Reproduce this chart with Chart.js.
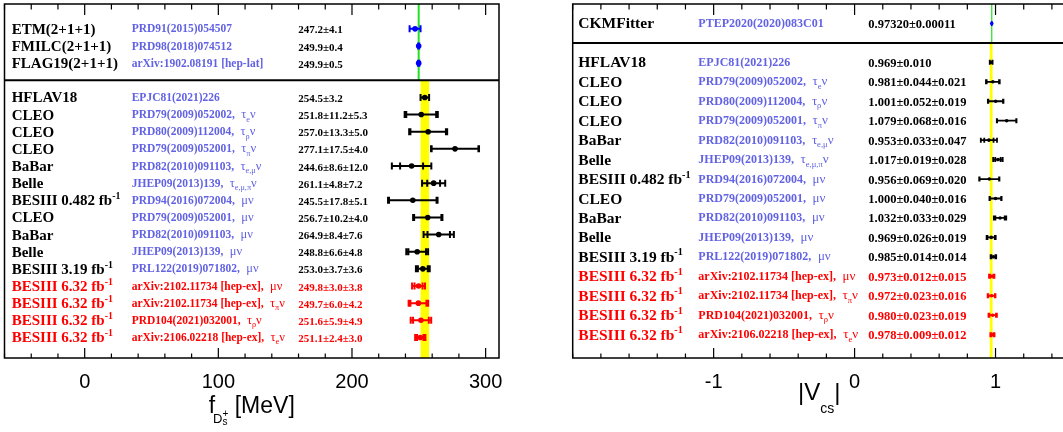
<!DOCTYPE html>
<html><head><meta charset="utf-8">
<script src="https://cdn.jsdelivr.net/npm/chart.js@4/dist/chart.umd.min.js"></script>
<style>
html,body{margin:0;padding:0;background:#fff;overflow:hidden;width:1063px;height:432px;position:relative;}
#c1{position:absolute;left:0;top:0;}
#c2{position:absolute;left:560px;top:0;}
</style></head><body>
<canvas id="c1" width="520" height="432"></canvas>
<canvas id="c2" width="520" height="432"></canvas>
<script>
// ---------------- data: f_Ds+ panel ----------------
const fdsRows = [0,1,2,4,5,6,7,8,9,10,11,12,13,14,15,16,17,18];
const fdsNames = ['ETM(2+1+1)','FMILC(2+1+1)','FLAG19(2+1+1)','HFLAV18','CLEO','CLEO','CLEO','BaBar','Belle','BESIII 0.482 fb^{-1}','CLEO','BaBar','Belle','BESIII 3.19 fb^{-1}','BESIII 6.32 fb^{-1}','BESIII 6.32 fb^{-1}','BESIII 6.32 fb^{-1}','BESIII 6.32 fb^{-1}'];
const fdsRefs = ['PRD91(2015)054507','PRD98(2018)074512','arXiv:1902.08191 [hep-lat]','EPJC81(2021)226','PRD79(2009)052002','PRD80(2009)112004','PRD79(2009)052001','PRD82(2010)091103','JHEP09(2013)139','PRD94(2016)072004','PRD79(2009)052001','PRD82(2010)091103','JHEP09(2013)139','PRL122(2019)071802','arXiv:2102.11734 [hep-ex]','arXiv:2102.11734 [hep-ex]','PRD104(2021)032001','arXiv:2106.02218 [hep-ex]'];
const fdsChannels = ['','','','','τ_{e}ν','τ_{ρ}ν','τ_{π}ν','τ_{e,μ}ν','τ_{e,μ,π}ν','μν','μν','μν','μν','μν','μν','τ_{π}ν','τ_{ρ}ν','τ_{e}ν'];
const fdsKinds = ['theory','theory','theory','avg','exp','exp','exp','exp','exp','exp','exp','exp','exp','exp','new','new','new','new'];
const fdsCentral = [247.2,249.9,249.9,254.5,251.8,257.0,277.1,244.6,261.1,245.5,256.7,264.9,248.8,253.0,249.8,249.7,251.6,251.1];
const fdsStat    = [4.1,0.4,0.5,3.2,11.2,13.3,17.5,8.6,4.8,17.8,10.2,8.4,6.6,3.7,3.0,6.0,5.9,2.4];
const fdsSyst    = [0,0,0,0,5.3,5.0,4.0,12.0,7.2,5.1,4.0,7.6,4.8,3.6,3.8,4.2,4.9,3.0];
const fdsDecimals = [1,1,1,1,1,1,1,1,1,1,1,1,1,1,1,1,1,1];
const fdsTicks = [0,100,200,300];
const fdsRange = [-60,310];

// ---------------- data: |Vcs| panel ----------------
const vcsRows = [0,2,3,4,5,6,7,8,9,10,11,12,13,14,15,16];
const vcsNames = ['CKMFitter','HFLAV18','CLEO','CLEO','CLEO','BaBar','Belle','BESIII 0.482 fb^{-1}','CLEO','BaBar','Belle','BESIII 3.19 fb^{-1}','BESIII 6.32 fb^{-1}','BESIII 6.32 fb^{-1}','BESIII 6.32 fb^{-1}','BESIII 6.32 fb^{-1}'];
const vcsRefs = ['PTEP2020(2020)083C01','EPJC81(2021)226','PRD79(2009)052002','PRD80(2009)112004','PRD79(2009)052001','PRD82(2010)091103','JHEP09(2013)139','PRD94(2016)072004','PRD79(2009)052001','PRD82(2010)091103','JHEP09(2013)139','PRL122(2019)071802','arXiv:2102.11734 [hep-ex]','arXiv:2102.11734 [hep-ex]','PRD104(2021)032001','arXiv:2106.02218 [hep-ex]'];
const vcsChannels = ['','','τ_{e}ν','τ_{ρ}ν','τ_{π}ν','τ_{e,μ}ν','τ_{e,μ,π}ν','μν','μν','μν','μν','μν','μν','τ_{π}ν','τ_{ρ}ν','τ_{e}ν'];
const vcsKinds = ['theory','avg','exp','exp','exp','exp','exp','exp','exp','exp','exp','exp','new','new','new','new'];
const vcsCentral = [0.97320,0.969,0.981,1.001,1.079,0.953,1.017,0.956,1.000,1.032,0.969,0.985,0.973,0.972,0.980,0.978];
const vcsStat    = [0.00011,0.010,0.044,0.052,0.068,0.033,0.019,0.069,0.040,0.033,0.026,0.014,0.012,0.023,0.023,0.009];
const vcsSyst    = [0,0,0.021,0.019,0.016,0.047,0.028,0.020,0.016,0.029,0.019,0.014,0.015,0.016,0.019,0.012];
const vcsDecimals = [5,3,3,3,3,3,3,3,3,3,3,3,3,3,3,3];
const vcsTicks = [-1,0,1];
const vcsRange = [-2,1.5];

// ---------------- rendering helpers ----------------
const SERIF = '"Liberation Serif","Times New Roman",serif';
const SANS = '"Liberation Sans",Arial,Helvetica,sans-serif';
const COLORS = {
  theory: {name:'#000', ref:'#6262e4', val:'#000', mark:'#0000ff'},
  avg:    {name:'#000', ref:'#6262e4', val:'#000', mark:'#000'},
  exp:    {name:'#000', ref:'#6262e4', val:'#000', mark:'#000'},
  new:    {name:'#ff0000', ref:'#ff0000', val:'#ff0000', mark:'#ff0000'}
};
function parseRich(str){
  const segs=[]; let i=0, buf='';
  while(i<str.length){
    const ch=str[i];
    if((ch==='_'||ch==='^')&&str[i+1]==='{'){
      if(buf){segs.push({t:buf,m:0});buf='';}
      const end=str.indexOf('}',i+2);
      segs.push({t:str.slice(i+2,end),m:ch==='_'?1:2});
      i=end+1;
    } else {buf+=ch;i++;}
  }
  if(buf) segs.push({t:buf,m:0});
  return segs;
}
function drawRich(ctx,x,y,str,size,weight,color,family){
  ctx.fillStyle=color; ctx.textBaseline='alphabetic'; ctx.textAlign='left';
  for(const s of parseRich(str)){
    const sz = s.m ? size*0.66 : size;
    const dy = s.m===1 ? size*0.28 : (s.m===2 ? -size*0.42 : 0);
    ctx.font = `${weight} ${sz}px ${family||SERIF}`;
    ctx.fillText(s.t,x,y+dy);
    x += ctx.measureText(s.t).width;
  }
  return x;
}
function fmt(v,d){return v.toFixed(d);}

const forestPlugin = {
  id:'forest',
  beforeDatasetsDraw(chart){
    const o = chart.options.plugins.forest, ctx = chart.ctx;
    const xs = chart.scales.x, ys = chart.scales.y, ca = chart.chartArea;
    const yDiv = ys.getPixelForValue(o.dividerRow);
    ctx.save();
    // yellow band from the average
    const b = o.bandIdx;
    const xl = xs.getPixelForValue(o.central[b]-o.stat[b]), xr = xs.getPixelForValue(o.central[b]+o.stat[b]);
    ctx.fillStyle='#ffff00';
    ctx.fillRect(xl, yDiv, xr-xl, ca.bottom-yDiv);
    // green reference line
    const xg = xs.getPixelForValue(o.central[o.lineIdx]);
    ctx.strokeStyle='#22e022'; ctx.lineWidth=o.st.greenW;
    ctx.beginPath(); ctx.moveTo(xg,ca.top); ctx.lineTo(xg,yDiv); ctx.stroke();
    // error bars
    for(let i=0;i<o.rows.length;i++){
      const y = ys.getPixelForValue(o.rows[i]);
      const c=o.central[i], s=o.stat[i], t=Math.hypot(o.stat[i],o.syst[i]);
      ctx.strokeStyle = COLORS[o.kinds[i]].mark;
      ctx.lineWidth = o.st.barW;
      ctx.beginPath();
      ctx.moveTo(xs.getPixelForValue(c-t),y); ctx.lineTo(xs.getPixelForValue(c+t),y);
      const caps = o.syst[i]>0 ? [c-s,c+s,c-t,c+t] : [c-s,c+s];
      for(const v of caps){
        const px = xs.getPixelForValue(v);
        ctx.moveTo(px,y-o.st.capH); ctx.lineTo(px,y+o.st.capH);
      }
      ctx.stroke();
    }
    ctx.restore();
  },
  afterDraw(chart){
    const o = chart.options.plugins.forest, ctx = chart.ctx;
    const xs = chart.scales.x, ys = chart.scales.y, ca = chart.chartArea;
    ctx.save();
    // frame
    ctx.strokeStyle='#000'; ctx.lineWidth=1.5;
    ctx.strokeRect(ca.left, ca.top, ca.right-ca.left, ca.bottom-ca.top);
    // divider
    const yDiv = ys.getPixelForValue(o.dividerRow);
    ctx.lineWidth=2;
    ctx.beginPath(); ctx.moveTo(ca.left,yDiv); ctx.lineTo(ca.right,yDiv); ctx.stroke();
    // inward ticks, top & bottom
    ctx.lineWidth=1.2;
    ctx.beginPath();
    const n = Math.round((xs.max-xs.min)/o.minorStep);
    const start = Math.ceil(xs.min/o.minorStep - 1e-6);
    for(let k=start; k*o.minorStep<=xs.max+1e-9; k++){
      const v = k*o.minorStep;
      const px = xs.getPixelForValue(v);
      const major = o.tickValues.some(tv=>Math.abs(tv-v)<1e-9);
      const lt = major?11:5.5, lb = major?10:4.5;
      ctx.moveTo(px,ca.top); ctx.lineTo(px,ca.top+lt);
      ctx.moveTo(px,ca.bottom); ctx.lineTo(px,ca.bottom-lb);
    }
    ctx.stroke();
    // text columns
    const st = o.st;
    for(let i=0;i<o.rows.length;i++){
      const y = ys.getPixelForValue(o.rows[i]);
      const col = COLORS[o.kinds[i]];
      drawRich(ctx, st.nameX, y+5, o.names[i], st.nameSize, 'bold', col.name);
      let x = drawRich(ctx, st.refX, y+3.5, o.refs[i] + (o.channels[i]?',':''), st.refSize, 'bold', col.ref);
      if(o.channels[i]){
        x += st.refSize*0.55;
        drawRich(ctx, x, y+3.5, o.channels[i], st.chanSize, 'normal', col.ref);
      }
      const d = o.decimals[i];
      let txt = fmt(o.central[i],d)+'±'+fmt(o.stat[i],d);
      if(o.syst[i]>0) txt += '±'+fmt(o.syst[i],d);
      drawRich(ctx, st.valX, y+4.5, txt, st.valSize, 'bold', col.val);
    }
    // axis title
    const cx = (ca.left+ca.right)/2;
    const parts = o.title;
    let w=0, xcur=0; const laid=[];
    for(const p of parts){
      ctx.font = `${p.size}px ${SANS}`;
      const pw = ctx.measureText(p.t).width;
      const px = p.overlap ? laid[laid.length-1].x : xcur + (p.dx||0);
      laid.push({p, x:px});
      xcur = Math.max(xcur, px + pw);
    }
    w = xcur;
    ctx.fillStyle='#000'; ctx.textBaseline='alphabetic'; ctx.textAlign='left';
    for(const L of laid){
      ctx.font = `${L.p.size}px ${SANS}`;
      ctx.fillText(L.p.t, cx - w/2 + L.x, o.titleBase + (L.p.dy||0));
    }
    ctx.restore();
  }
};

function makeChart(id, cfg){
  const pts = k => cfg.rows.map((r,i)=>({x:cfg.central[i], y:r, k:cfg.kinds[i]}))
                            .filter(p=> k.includes(p.k));
  return new Chart(document.getElementById(id), {
    type:'scatter',
    data:{datasets:[
      {data:pts(['theory']), backgroundColor:'#0000ff', pointRadius:cfg.st.ptR, pointBorderWidth:0},
      {data:pts(['avg','exp']), backgroundColor:'#000', pointRadius:cfg.st.ptR, pointBorderWidth:0},
      {data:pts(['new']), backgroundColor:'#ff0000', pointRadius:cfg.st.ptR, pointBorderWidth:0}
    ]},
    options:{
      responsive:false, animation:false, events:[],
      layout:{padding:cfg.pad},
      plugins:{legend:{display:false}, tooltip:{enabled:false}, forest:cfg},
      scales:{
        x:{type:'linear', min:cfg.range[0], max:cfg.range[1],
           grid:{display:false, drawTicks:false}, border:{display:false},
           afterBuildTicks:s=>{ s.ticks = cfg.tickValues.map(v=>({value:v})); },
           afterFit:s=>{ s.height = 74; },
           ticks:{color:'#000', font:{family:SANS, size:20}, padding:12, maxRotation:0, autoSkip:false}},
        y:{type:'linear', display:false, reverse:true, min:cfg.yRange[0], max:cfg.yRange[1]}
      }
    },
    plugins:[forestPlugin]
  });
}

makeChart('c1', {
  rows:fdsRows, names:fdsNames, refs:fdsRefs, channels:fdsChannels, kinds:fdsKinds,
  central:fdsCentral, stat:fdsStat, syst:fdsSyst, decimals:fdsDecimals,
  tickValues:fdsTicks, range:fdsRange, minorStep:20, yRange:[-1.45,19.2],
  dividerRow:3, bandIdx:3, lineIdx:2,
  pad:{left:4.5, right:21, top:3, bottom:0},
  st:{nameX:11.7, refX:131.7, valX:298.3, nameSize:15, refSize:11.5, chanSize:12.5, valSize:11,
      barW:2, capH:3.5, ptR:2.8, greenW:2},
  title:[{t:'f',size:23},{t:'D',size:13,dy:9.7,dx:-2},{t:'s',size:10,dy:12},{t:'+',size:10,dy:3.5,overlap:true},{t:' [MeV]',size:23}],
  titleBase:413
});
makeChart('c2', {
  rows:vcsRows, names:vcsNames, refs:vcsRefs, channels:vcsChannels, kinds:vcsKinds,
  central:vcsCentral, stat:vcsStat, syst:vcsSyst, decimals:vcsDecimals,
  tickValues:vcsTicks, range:vcsRange, minorStep:0.2, yRange:[-1,17.2],
  dividerRow:1, bandIdx:1, lineIdx:0,
  pad:{left:12.7, right:14, top:3, bottom:0},
  st:{nameX:18.3, refX:138.3, valX:308.3, nameSize:15.5, refSize:12, chanSize:13, valSize:12.5,
      barW:1.8, capH:2.5, ptR:1.8, greenW:1.2},
  title:[{t:'|V',size:24},{t:'cs',size:14,dy:13},{t:'|',size:24}],
  titleBase:400
});
</script>
</body></html>
